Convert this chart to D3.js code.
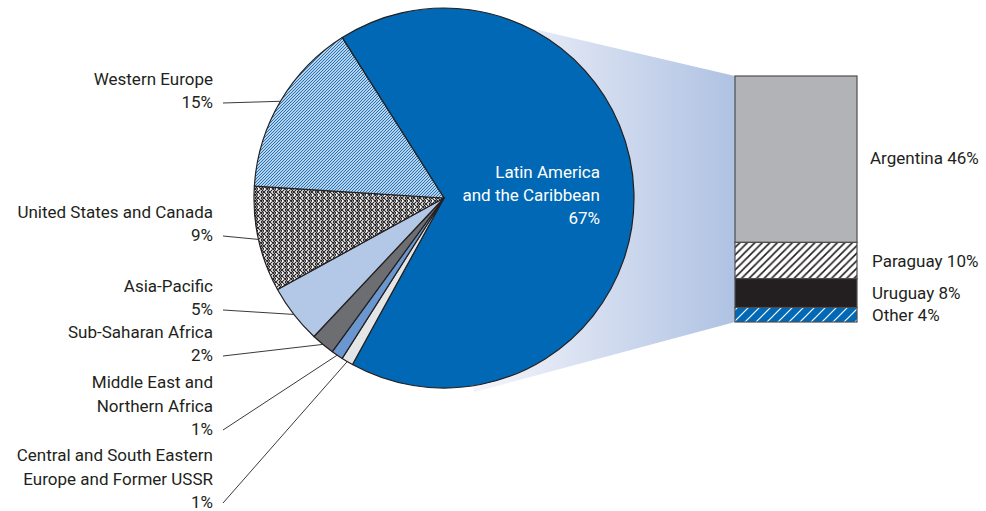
<!DOCTYPE html>
<html>
<head>
<meta charset="utf-8">
<script src="https://cdn.jsdelivr.net/npm/d3@7"></script>
<style>
  body { margin: 0; background: #fff; }
  text { font-family: Roboto, "Liberation Sans", sans-serif; fill: #231f20; }
</style>
</head>
<body>
<div id="chart"></div>
<script>
// Pie slices, in clockwise order starting with Latin America
var regions = ["Latin America\nand the Caribbean", "Central and South Eastern\nEurope and Former USSR",
    "Middle East and\nNorthern Africa", "Sub-Saharan Africa", "Asia-Pacific",
    "United States and Canada", "Western Europe"];
var regionShares = [67, 1, 1, 2, 5, 9, 15];

// Breakdown of Latin America, top to bottom
var countries = ["Argentina", "Paraguay", "Uruguay", "Other"];
var countryShares = [46, 10, 8, 4];

var width = 986, height = 511;
var cx = 444, cy = 198, radius = 190;
var fontSize = 17;

var svg = d3.select("#chart")
  .append("svg")
    .attr("width", width)
    .attr("height", height);

var defs = svg.append("defs");

// Fill patterns
function stripes(id, size, bg, fg, sw) {
    var p = defs.append("pattern")
        .attr("id", id)
        .attr("patternUnits", "userSpaceOnUse")
        .attr("width", size)
        .attr("height", size);
    p.append("rect").attr("width", size).attr("height", size).attr("fill", bg);
    p.append("path")
        .attr("d", "M" + (-size) + "," + size + "l" + (2 * size) + "," + (-2 * size) +
            "M0," + (2 * size) + "l" + (2 * size) + "," + (-2 * size) +
            "M" + (-size) + "," + (2 * size) + "l" + (2 * size) + "," + (-2 * size) +
            "M" + (-2 * size) + "," + size + "l" + (2 * size) + "," + (-2 * size))
        .attr("stroke", fg)
        .attr("stroke-width", sw);
}
stripes("weHatch", 3, "#ffffff", "#1a6fb8", 1.2);
stripes("pyHatch", 7.5, "#ffffff", "#231f20", 1.6);
stripes("otHatch", 11, "#0068b4", "#ffffff", 1.2);

var cross = defs.append("pattern")
    .attr("id", "usCross")
    .attr("patternUnits", "userSpaceOnUse")
    .attr("width", 6)
    .attr("height", 6);
cross.append("rect").attr("width", 6).attr("height", 6).attr("fill", "#ffffff");
cross.append("path")
    .attr("d", "M0,0L6,6M0,6L6,0M-3,3L0,6M3,0L6,3M-3,3L0,0M3,6L6,3")
    .attr("stroke", "#231f20")
    .attr("stroke-width", 1.1);

var regionFills = ["#0068b4", "#e4e5e7", "#6b97d1", "#6d6e71", "#b3c7e7", "url(#usCross)", "url(#weHatch)"];
var countryFills = ["#b1b3b6", "url(#pyHatch)", "#231f20", "url(#otHatch)"];

// Gradient joining the pie with the bar
var grad = defs.append("linearGradient")
    .attr("id", "fan")
    .attr("gradientUnits", "userSpaceOnUse")
    .attr("x1", cx + 40).attr("x2", 735)
    .attr("y1", 0).attr("y2", 0);
grad.append("stop").attr("offset", "0%").attr("stop-color", "#f3f4fa");
grad.append("stop").attr("offset", "100%").attr("stop-color", "#afc2e3");

// Bar scale
var barX = 735, barW = 122;
var total = d3.sum(countryShares);
var yBar = d3.scaleLinear()
    .domain([0, total])
    .range([76, 322]);

// bottom edge of the fan runs from the bar bottom towards the pie's lower edge
var fanSlope = -0.269;
var fanEndX = cx + 30;
svg.append("path")
    .attr("d", "M" + cx + "," + (cy - radius) + "L" + barX + "," + yBar(0) +
        "L" + barX + "," + yBar(total) +
        "L" + fanEndX + "," + (yBar(total) - fanSlope * (barX - fanEndX)) +
        "L" + cx + "," + cy + "Z")
    .attr("fill", "url(#fan)");

// Pie
var startA = -32.4 * Math.PI / 180;
var pie = d3.pie()
    .sort(null)
    .startAngle(startA)
    .endAngle(startA + 2 * Math.PI);

var arc = d3.arc()
    .innerRadius(0)
    .outerRadius(radius);

var slices = pie(regionShares);

var g = svg.append("g")
    .attr("transform", "translate(" + cx + "," + cy + ")");

g.selectAll("path")
    .data(slices)
  .enter()
  .append("path")
    .attr("d", arc)
    .attr("fill", function(d, i) { return regionFills[i]; })
    .attr("stroke", "#231f20")
    .attr("stroke-width", 1.2)
    .attr("stroke-linejoin", "round");

// Label inside Latin America slice
var laLines = regions[0].split("\n").concat([regionShares[0] + "%"]);
svg.append("text")
    .attr("text-anchor", "end")
    .attr("font-size", fontSize)
    .selectAll("tspan")
    .data(laLines)
  .enter()
  .append("tspan")
    .attr("x", 600)
    .attr("y", function(d, i) { return 178 + i * 23; })
    .style("fill", "#ffffff")
    .text(function(d) { return d; });

// Outside labels with leader lines (baseline of the percent line)
var labelY = [null, 508, 435, 361, 315, 241, 108];
var labelX = 213;

slices.forEach(function(d, i) {
    if (i === 0) return;
    var lines = regions[i].split("\n").concat([regionShares[i] + "%"]);
    var ly = labelY[i];
    svg.append("text")
        .attr("text-anchor", "end")
        .attr("font-size", fontSize)
        .selectAll("tspan")
        .data(lines)
      .enter()
      .append("tspan")
        .attr("x", labelX)
        .attr("y", function(t, j) { return ly - (lines.length - 1 - j) * 23.5; })
        .text(function(t) { return t; });

    var mid = (d.startAngle + d.endAngle) / 2;
    svg.append("line")
        .attr("x1", labelX + 10)
        .attr("y1", ly - 5)
        .attr("x2", cx + radius * Math.sin(mid))
        .attr("y2", cy - radius * Math.cos(mid))
        .attr("stroke", "#3a3a3a")
        .attr("stroke-width", 1);
});

// Stacked bar for Latin America
var cum = 0;
var segs = countryShares.map(function(v) {
    var s = {y0: cum, y1: cum + v};
    cum += v;
    return s;
});

svg.append("g")
    .selectAll("rect")
    .data(segs)
  .enter()
  .append("rect")
    .attr("x", barX)
    .attr("y", function(d) { return yBar(d.y0); })
    .attr("width", barW)
    .attr("height", function(d) { return yBar(d.y1) - yBar(d.y0); })
    .attr("fill", function(d, i) { return countryFills[i]; })
    .attr("stroke", "#4d4d4f")
    .attr("stroke-width", 1.2);

// Bar labels
var barLabelY = [164, 267, 299, 321];
svg.append("g")
    .selectAll("text")
    .data(countries)
  .enter()
  .append("text")
    .attr("x", function(d, i) { return i === 0 ? 870 : 872; })
    .attr("y", function(d, i) { return barLabelY[i]; })
    .attr("font-size", fontSize)
    .text(function(d, i) { return d + " " + countryShares[i] + "%"; });
</script>
</body>
</html>
